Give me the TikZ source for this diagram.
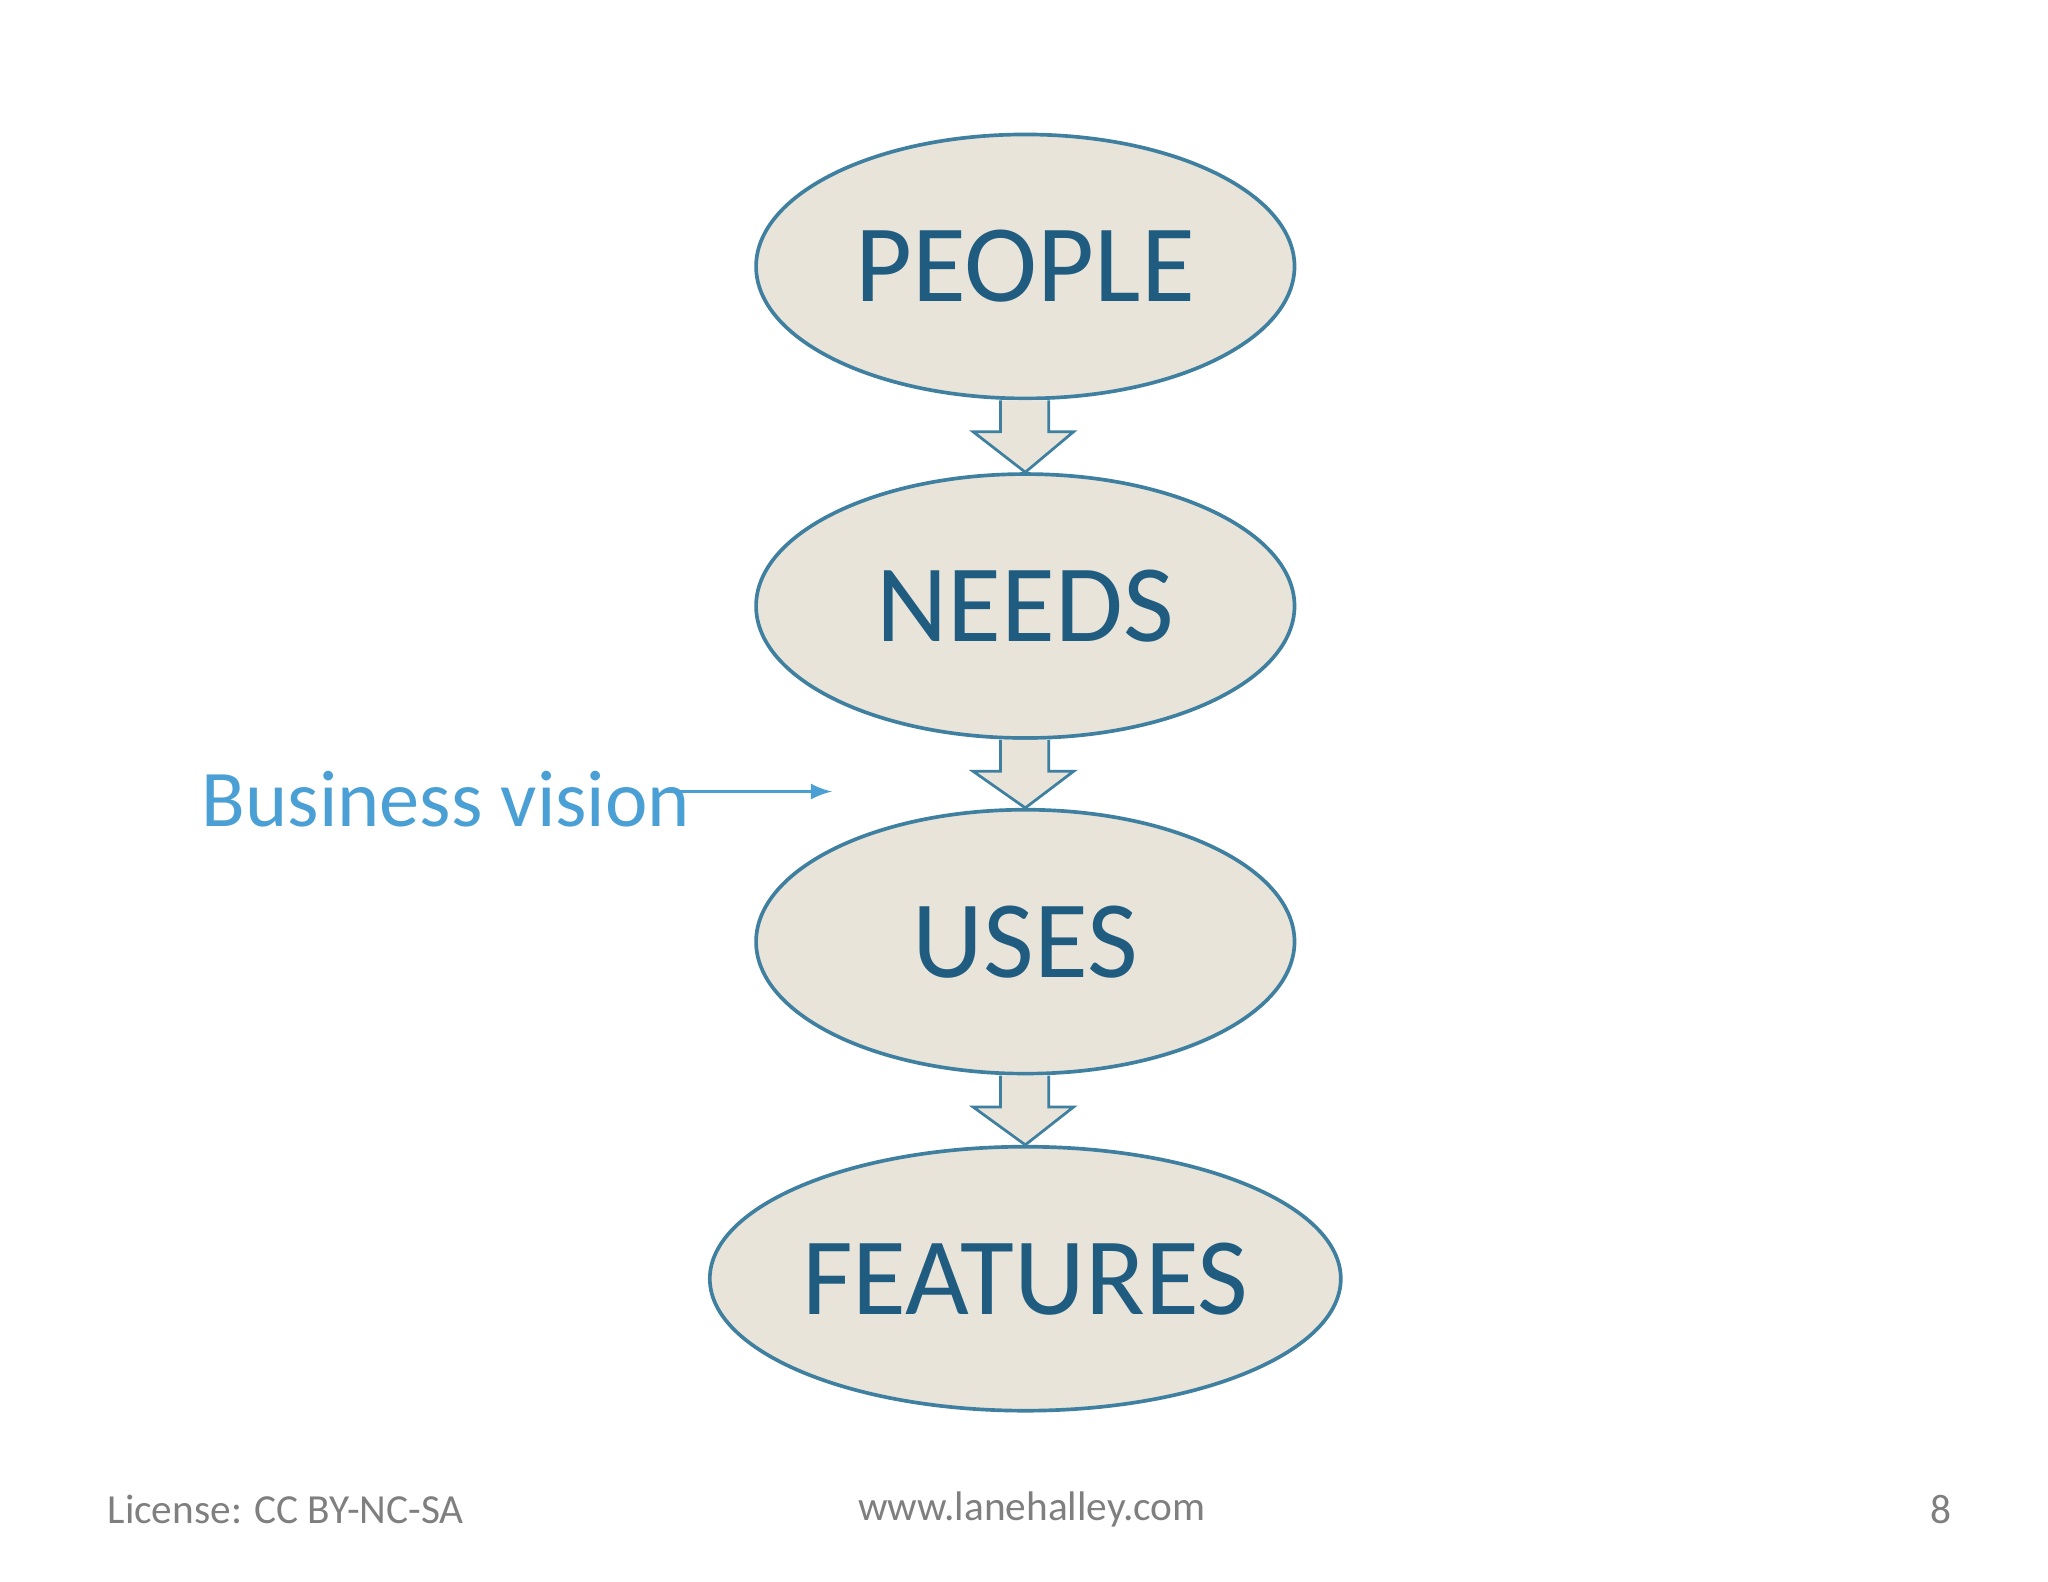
\documentclass[tikz,border=0pt]{standalone}
\usepackage{fontspec}
\setmainfont{Carlito}
\usetikzlibrary{shapes.geometric}
\begin{document}
\begin{tikzpicture}[x=0.01cm,y=-0.01cm,
  ell/.style={draw=edge,fill=fillc,line width=0.8pt,ellipse,inner sep=0pt,minimum width=4.12cm,minimum height=2.02cm,font=\fontsize{24}{28}\selectfont,text=dblue},
  blk/.style={draw=edge,fill=fillc,line width=0.6pt}]
\definecolor{edge}{HTML}{3F7FA0}
\definecolor{fillc}{HTML}{E8E4DA}
\definecolor{dblue}{HTML}{1F5C80}
\definecolor{lblue}{HTML}{4A9FD4}
\definecolor{gr}{HTML}{7F7F7F}
\useasboundingbox (0,0) rectangle (1568,1211);
\foreach \n/\t/\y in {p/PEOPLE/204,n/NEEDS/464,u/USES/721,f/FEATURES/979}
  \node[ell] (\n) at (785,\y) {\t};
\foreach \a/\b in {p/n,n/u,u/f}{
  \draw[blk] ([xshift=-0.19cm]\a.south) -- ([xshift=-0.19cm,yshift=-0.24cm]\a.south) -- ([xshift=-0.4cm,yshift=-0.24cm]\a.south) -- (\b.north) -- ([xshift=0.37cm,yshift=-0.24cm]\a.south) -- ([xshift=0.18cm,yshift=-0.24cm]\a.south) -- ([xshift=0.18cm]\a.south);
}
\node[text=lblue,font=\fontsize{17.5}{20}\selectfont,anchor=west] (bv) at (142,612) {Business vision};
\coordinate (bt) at (637,606);
\draw[lblue,line width=0.6pt,-latex] (508,606) -- (bt);
\node[text=gr,font=\fontsize{9}{11}\selectfont,anchor=west] (lic) at (70,1156) {License: CC BY-NC-SA};
\node[text=gr,font=\fontsize{9}{11}\selectfont] (www) at (790,1156) {www.lanehalley.com};
\node[text=gr,font=\fontsize{9}{11}\selectfont] (pg) at (1486,1156) {8};
\end{tikzpicture}
\end{document}
